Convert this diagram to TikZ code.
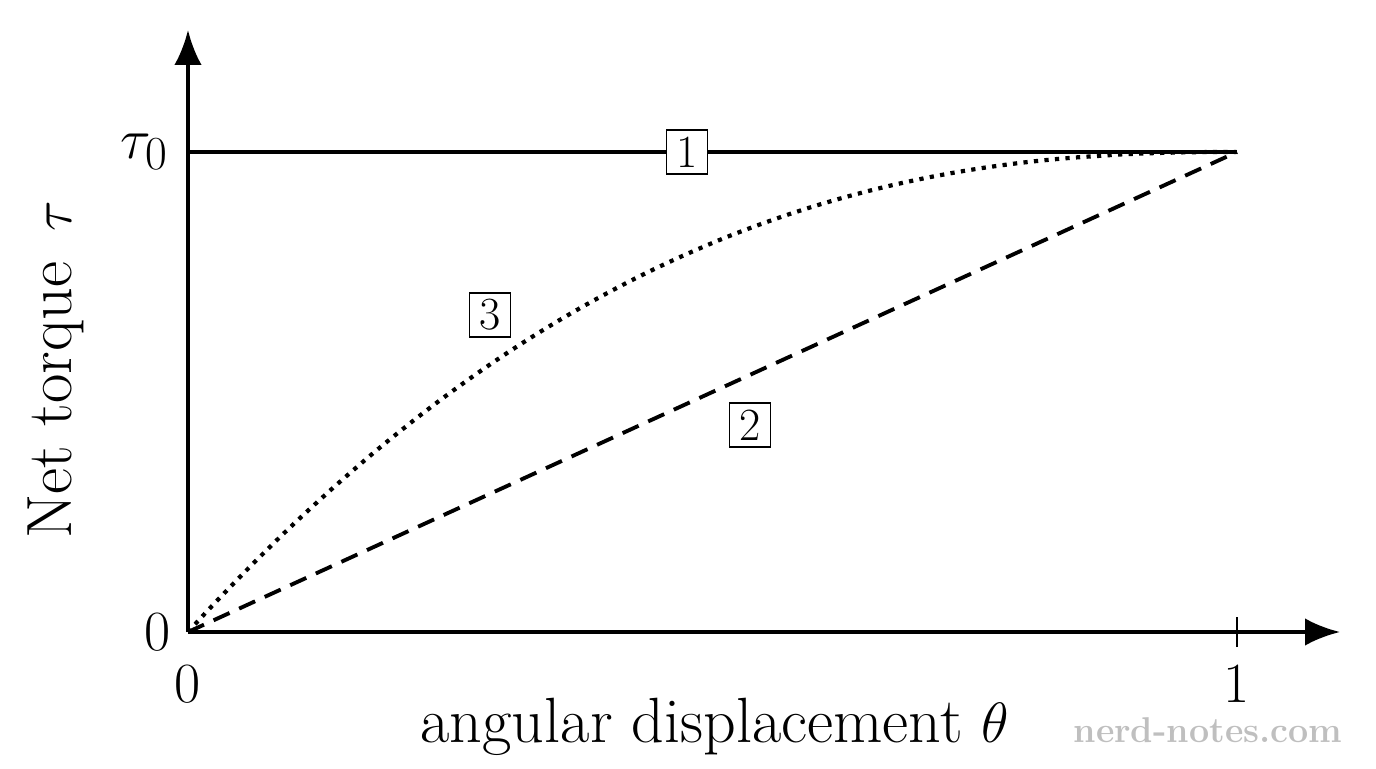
\documentclass[tikz,border=0pt]{standalone}
\usepackage{tikz}
\usetikzlibrary{arrows.meta}
\tikzset{
  lbl/.style={font=\fontsize{28}{32}\selectfont,scale=1.3},
  tag/.style={draw,fill=white,line width=0.9pt,inner xsep=4.5pt,inner ysep=3pt,font=\fontsize{21}{24}\selectfont,scale=1.25}
}
\begin{document}
\begin{tikzpicture}[line width=2.2pt]
  \useasboundingbox (-3.76,-2.72) rectangle (23.76,12.64);

  % axes
  \coordinate (O) at (0,0);
  \coordinate (xend) at (23.04,0);
  \coordinate (yend) at (0,12.04);
  \draw[-{Latex[length=0.7cm,width=0.55cm]}] (O) -- (xend);
  \draw[-{Latex[length=0.7cm,width=0.55cm]}] (O) -- (yend);
  \draw[line width=0.8pt] (20.98,-0.3) -- (20.98,0.3);

  \node[lbl,anchor=east] (y0) at (-0.15,0) {$0$};
  \node[lbl,anchor=east] (tau) at (-0.2,9.6) {$\tau_0$};
  \node[lbl] (x0) at (0,-1.05) {$0$};
  \node[lbl] (x1) at (20.98,-1.05) {$1$};
  \node[lbl,rotate=90] (ylab) at (-2.65,5.24) {Net torque \,$\tau$};
  \node[lbl] (xlab) at (10.54,-1.9) {angular displacement $\theta$};

  % curves
  \coordinate (E) at (20.98,9.6);
  \draw (0,9.6) -- (E);
  \draw[dash pattern=on 10pt off 6pt] (O) -- (E);
  \draw[line width=2.4pt,dash pattern=on 2.4pt off 3.6pt,domain=0:1,samples=80,smooth]
    plot ({20.98*\x},{9.6*(1-(1-\x)^2.4)});

  \node[tag] (c1) at (9.98,9.6) {1};
  \node[tag] (c2) at (11.24,4.14) {2};
  \node[tag] (c3) at (6.04,6.34) {3};

  \node[text=black!25,font=\fontsize{17}{20}\selectfont\bfseries,scale=1.2] (wm) at (20.4,-1.96) {nerd-notes.com};
\end{tikzpicture}
\end{document}
